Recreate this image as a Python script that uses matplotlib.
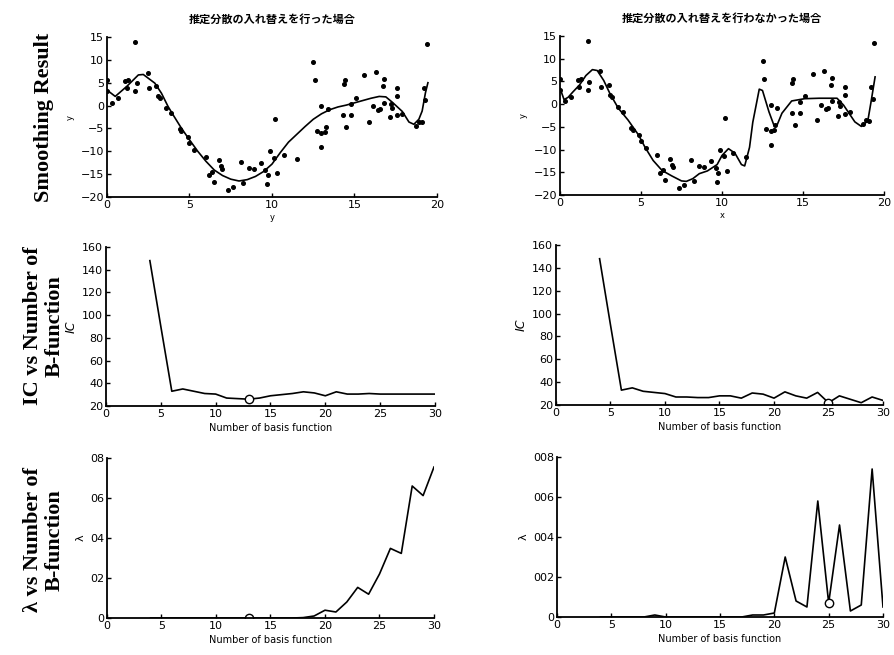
import numpy as np
import matplotlib.pyplot as plt

plt.rcParams['font.family'] = ['DejaVu Sans', 'Noto Sans CJK JP']

# observed data points (same in both smoothing panels)
obs_x = [0.0, 0.0, 0.3, 0.65, 1.1, 1.3, 1.2, 1.7, 1.7, 1.8, 2.5, 2.55, 3.0, 3.1, 3.2,
         3.6, 3.9, 4.4, 4.5, 4.9, 5.0, 5.3, 6.0, 6.2, 6.35, 6.5, 6.8, 6.9, 7.0, 7.35,
         7.65, 8.1, 8.25, 8.6, 8.9, 9.35, 9.6, 9.7, 9.75, 9.9, 10.1, 10.2, 10.3, 10.7,
         11.5, 12.5, 12.6, 13.0, 12.7, 13.0, 13.2, 13.3, 13.0, 13.4, 14.3, 14.4, 14.35,
         14.5, 14.8, 14.8, 15.1, 15.6, 15.85, 16.1, 16.3, 16.4, 16.55, 16.75, 16.8, 16.8,
         17.15, 17.2, 17.3, 17.6, 17.6, 17.6, 17.9, 18.7, 18.9, 19.1, 19.3, 19.2, 19.4]
obs_y = [5.6, 3.1, 0.6, 1.6, 5.3, 5.6, 3.8, 14.0, 3.1, 4.9, 7.2, 3.8, 4.2, 2.0, 1.6,
         -0.6, -1.7, -5.2, -5.6, -6.8, -8.2, -9.7, -11.3, -15.2, -14.6, -16.8, -12.0, -13.3, -13.8, -18.4,
         -17.9, -12.3, -17.0, -13.7, -13.9, -12.6, -14.0, -17.2, -15.2, -10.0, -11.5, -3.0, -14.7, -10.8,
         -11.7, 9.6, 5.6, -0.1, -5.5, -6.0, -5.7, -4.7, -9.1, -0.8, -2.0, 5.6, 4.7,
         -4.6, -2.0, 0.4, 1.7, 6.6, -3.6, -0.2, 7.4, -1.0, -0.8, 4.3, 5.8, 0.6,
         -2.6, 0.4, -0.5, 3.8, 2.1, -2.1, -1.8, -4.4, -3.5, -3.7, 1.2, 3.8, 13.5]

# smoothed curve with variance swapping
fit_l_x = [0.0, 0.5, 1.2, 1.9, 2.2, 2.9, 3.3, 3.7, 4.0, 4.5, 5.0, 5.5, 6.0, 6.5, 7.0,
           7.5, 8.0, 8.5, 9.0, 9.5, 10.0, 10.5, 11.0, 11.5, 12.0, 12.5, 13.0, 13.5, 14.0,
           14.5, 15.0, 15.5, 16.0, 16.5, 16.9, 17.3, 17.9, 18.3, 18.6, 18.9, 19.1, 19.3, 19.45]
fit_l_y = [3.4, 2.0, 4.2, 6.7, 6.8, 4.9, 2.7, -0.2, -2.0, -4.9, -7.5, -10.0, -12.2, -14.1, -15.3,
           -16.1, -16.5, -16.2, -15.5, -14.4, -12.8, -10.3, -8.0, -6.3, -4.6, -3.0, -1.8, -0.9, -0.3,
           0.1, 0.6, 1.1, 1.6, 2.0, 1.9, 0.7, -1.3, -3.6, -4.1, -3.0, -1.2, 2.8, 5.0]

# smoothed curve without variance swapping
fit_r_x = [0.0, 0.25, 0.5, 0.8, 1.2, 1.6, 2.0, 2.3, 2.7, 3.1, 3.6, 4.2, 4.85, 5.25, 5.75,
           6.3, 6.9, 7.5, 7.8, 8.2, 8.6, 9.1, 9.7, 10.0, 10.4, 10.8, 11.2, 11.4, 11.7, 11.9,
           12.3, 12.5, 12.9, 13.2, 13.4, 13.7, 14.3, 15.1, 16.0, 17.1, 17.5, 18.2, 18.6, 19.0,
           19.2, 19.45]
fit_r_y = [3.5, 1.0, 1.5, 2.7, 4.2, 6.3, 7.6, 7.4, 5.2, 2.2, -0.9, -3.5, -6.8, -9.5, -12.4,
           -14.6, -15.8, -16.9, -17.0, -16.4, -15.3, -14.7, -13.3, -11.3, -9.8, -10.8, -13.3, -13.6, -9.5, -4.0,
           3.3, 3.0, -1.7, -4.6, -4.6, -2.0, 0.7, 1.2, 1.3, 1.3, -0.2, -3.9, -4.9, -3.7,
           0.5, 6.0]

# IC vs number of basis functions
n_basis = list(range(4, 31))
ic_left = [148, 90, 33, 35, 33, 31, 30.5, 27, 26.5, 26, 27, 29, 30, 31, 32.5, 31.5, 29,
           32.5, 30.5, 30.5, 31, 30.5, 30.5, 30.5, 30.5, 30.5, 30.5]
ic_right = [148, 90, 33, 35, 32, 31, 30, 27, 27, 26.5, 26.5, 28, 28, 26, 30.5, 29.5, 26,
            31.5, 28, 26, 31, 22, 28, 25, 22, 27, 24]
ic_left_min = (13, 26)
ic_right_min = (25, 22)

# lambda vs number of basis functions
lam_left = [0, 0, 0, 0, 0, 0, 0, 0, 0, 0, 0, 0, 0, 0, 0.0002, 0.001, 0.0039,
            0.003, 0.008, 0.0153, 0.0119, 0.022, 0.0348, 0.0323, 0.066, 0.0612, 0.0755]
lam_right = [0, 0, 0, 0, 0, 0.0001, 0, 0, 0, 0, 0, 0, 0, 0, 0.0001, 0.0001, 0.0002,
             0.0030, 0.0008, 0.0005, 0.0058, 0.0007, 0.0046, 0.0003, 0.0006, 0.0074, 0.0005]
lam_left_min = (13, 0.0)
lam_right_min = (25, 0.0007)

titles = ['推定分散の入れ替えを行った場合', '推定分散の入れ替えを行わなかった場合']
row_labels = ['Smoothing Result', 'IC vs Number of\nB-function', 'λ vs Number of\nB-function']

fig = plt.figure(figsize=(8.95, 6.55), dpi=100)
W, H = 895, 655


def add_ax(x0, x1, y0, y1):
    ax = fig.add_axes([x0 / W, 1 - y1 / H, (x1 - x0) / W, (y1 - y0) / H])
    for s in ['top', 'right']:
        ax.spines[s].set_visible(False)
    for s in ['left', 'bottom']:
        ax.spines[s].set_linewidth(1.3)
    ax.tick_params(direction='in', length=3, width=1, labelsize=8, pad=2)
    return ax


# smoothing results
ax1 = add_ax(107, 437, 37, 197)
ax2 = add_ax(560, 884, 36, 195)
for ax, fx, fy, xl, t in [(ax1, fit_l_x, fit_l_y, 'y', titles[0]),
                          (ax2, fit_r_x, fit_r_y, 'x', titles[1])]:
    ax.plot(obs_x, obs_y, 'o', color='black', ms=2.6)
    ax.plot(fx, fy, color='black', lw=1.2)
    ax.set_xlim(0, 20)
    ax.set_ylim(-20, 15)
    ax.set_xticks([0, 5, 10, 15, 20])
    ax.set_yticks(range(-20, 16, 5))
    ax.set_xlabel(xl, fontsize=6, labelpad=2)
    ax.set_ylabel('y', fontsize=6, labelpad=4)
    ax.set_title(t, fontsize=8, fontweight='bold', pad=10,
                 family=['Noto Sans CJK JP', 'DejaVu Sans'])

# IC plots
ax3 = add_ax(106, 435, 247, 406)
ax4 = add_ax(556, 883, 245, 405)
for ax, ic, mn in [(ax3, ic_left, ic_left_min), (ax4, ic_right, ic_right_min)]:
    ax.plot(n_basis, ic, color='black', lw=1.2)
    ax.plot(*mn, 'o', mfc='white', mec='black', ms=6, mew=1)
    ax.set_xlim(0, 30)
    ax.set_ylim(20, 160)
    ax.set_xticks(range(0, 31, 5))
    ax.set_yticks(range(20, 161, 20))
    ax.set_xlabel('Number of basis function', fontsize=7, labelpad=3)
    ax.set_ylabel('IC', fontsize=9, style='italic', labelpad=3)

# lambda plots
ax5 = add_ax(107, 434, 458, 618)
ax6 = add_ax(557, 883, 457, 617)
for ax, lam, mn, top, labs in [
        (ax5, lam_left, lam_left_min, 0.08, ['0', '02', '04', '06', '08']),
        (ax6, lam_right, lam_right_min, 0.008, ['0', '002', '004', '006', '008'])]:
    ax.plot(n_basis, lam, color='black', lw=1.2)
    ax.plot(*mn, 'o', mfc='white', mec='black', ms=6, mew=1)
    ax.set_xlim(0, 30)
    ax.set_ylim(0, top)
    ax.set_xticks(range(0, 31, 5))
    ax.set_yticks(np.linspace(0, top, 5))
    ax.set_yticklabels(labs)
    ax.set_xlabel('Number of basis function', fontsize=7, labelpad=3)
    ax.set_ylabel('λ', fontsize=8, labelpad=3)

# row labels
row_y = [117, 326, 540]
for lab, yy in zip(row_labels, row_y):
    fig.text(44 / W, 1 - yy / H, lab, rotation=90, ha='center', va='center',
             fontsize=16, fontweight='bold', family='Liberation Serif',
             linespacing=1.15)

fig.savefig('out.png', dpi=100)
